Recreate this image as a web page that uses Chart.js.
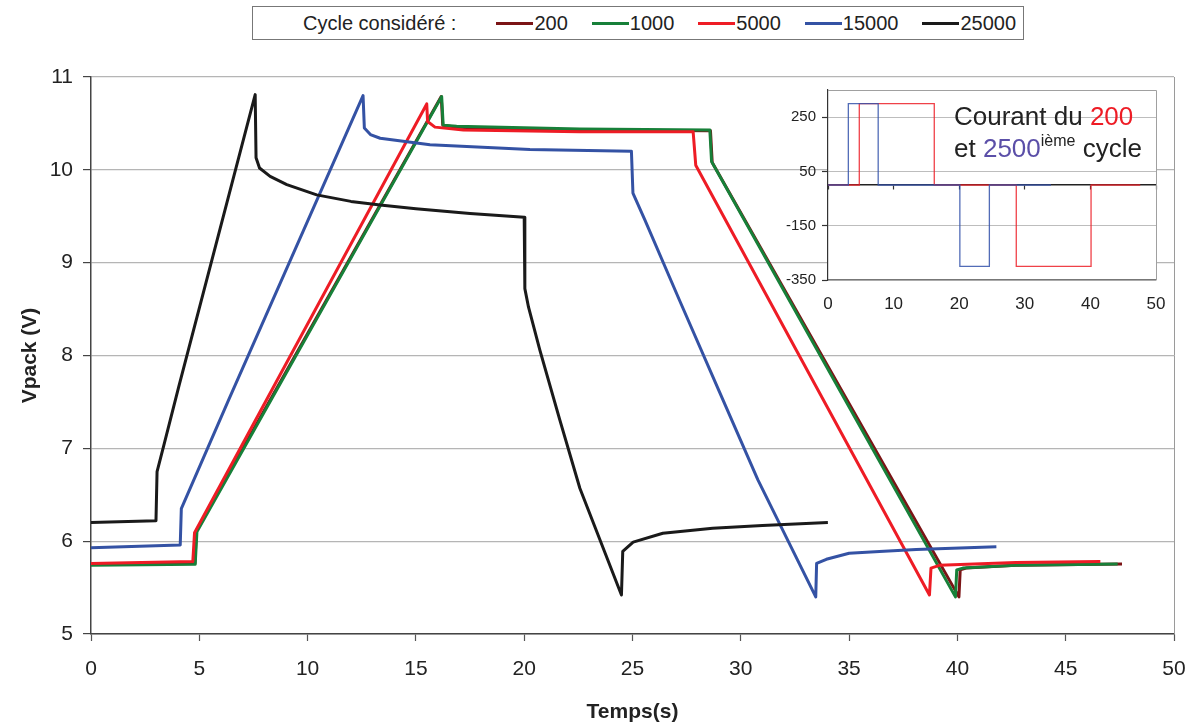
<!DOCTYPE html>
<html>
<head>
<meta charset="utf-8">
<script src="https://cdn.jsdelivr.net/npm/chart.js@4/dist/chart.umd.min.js"></script>
<style>
  html, body { margin: 0; padding: 0; background: #fff; }
  #wrap { position: relative; width: 1195px; height: 726px; font-family: 'Liberation Sans', Arial, sans-serif; }
  #mainBox { position: absolute; left: 0; top: 0; width: 1195px; height: 726px; }
  #insetBox { position: absolute; left: 770px; top: 80px; width: 410px; height: 240px; }
  #legend { position: absolute; left: 252px; top: 6px; width: 772px; height: 34px; box-sizing: border-box;
            border: 1px solid #777; display: flex; align-items: center; padding-left: 50px;
            font-size: 20px; color: #222; white-space: nowrap; background: #fff; }
  #legend .item { display: flex; align-items: center; }
  #legend .swatch { display: inline-block; width: 37px; height: 3px; margin-right: 1px; }
  #note { position: absolute; left: 954px; top: 100px; font-size: 26px; line-height: 32px; color: #222; white-space: nowrap; }
  #note sup { font-size: 16px; line-height: 0; vertical-align: 11px; }
</style>
</head>
<body>
<div id="wrap">
  <div id="mainBox"><canvas id="main"></canvas></div>
  <div id="insetBox"><canvas id="inset"></canvas></div>
  <div id="legend"></div>
  <div id="note">Courant du <span style="color:#ee1c25">200</span><br>et <span style="color:#5b4fa8">2500</span><sup>ième</sup> cycle</div>
</div>
<script>
// ---------- DATA (main chart) ----------
const cycleNames = ['200', '1000', '5000', '15000', '25000'];
const legendTitle = 'Cycle considéré :';
const xTitle = 'Temps(s)';
const yTitle = 'Vpack (V)';

const t200 = [0, 4.80, 4.86, 16.17, 16.24, 16.88, 22.57, 28.60, 28.68, 40.07, 40.13, 40.40, 42.70, 47.60];
const v200 = [5.75, 5.76, 6.11, 10.79, 10.48, 10.46, 10.43, 10.42, 10.08, 5.40, 5.69, 5.71, 5.74, 5.755];

const t1000 = [0, 4.81, 4.89, 16.19, 16.26, 16.88, 22.57, 28.57, 28.65, 39.91, 39.97, 40.25, 42.70, 47.40];
const v1000 = [5.74, 5.75, 6.10, 10.79, 10.48, 10.47, 10.44, 10.43, 10.09, 5.40, 5.69, 5.71, 5.74, 5.755];

const t5000 = [0, 4.70, 4.78, 15.50, 15.54, 15.88, 17.19, 22.57, 27.80, 27.92, 38.71, 38.78, 39.17, 42.70, 46.60];
const v5000 = [5.76, 5.78, 6.09, 10.71, 10.52, 10.46, 10.43, 10.41, 10.41, 10.05, 5.42, 5.71, 5.74, 5.77, 5.78];

const t15000 = [0, 4.12, 4.17, 6.35, 12.56, 12.62, 12.90, 13.35, 15.65, 20.26, 24.95, 25.02, 25.57, 27.18, 29.03, 30.79, 33.46, 33.50, 33.95, 35.00, 36.40, 38.10, 41.80];
const v15000 = [5.93, 5.96, 6.35, 7.52, 10.80, 10.45, 10.38, 10.34, 10.27, 10.22, 10.20, 9.75, 9.46, 8.59, 7.60, 6.66, 5.40, 5.76, 5.805, 5.87, 5.89, 5.91, 5.94];

const t25000 = [0, 3.00, 3.05, 3.35, 4.07, 7.58, 7.62, 7.78, 8.27, 9.04, 10.42, 12.00, 13.35, 15.00, 17.50, 20.00, 20.03, 20.20, 20.72, 21.64, 22.57, 24.49, 24.55, 25.03, 26.40, 28.70, 31.00, 34.02];
const v25000 = [6.20, 6.22, 6.75, 7.02, 7.68, 10.81, 10.13, 10.02, 9.93, 9.84, 9.73, 9.66, 9.62, 9.58, 9.53, 9.49, 8.72, 8.52, 8.06, 7.31, 6.57, 5.42, 5.89, 5.99, 6.085, 6.14, 6.17, 6.20];

const xTickValues = [0, 5, 10, 15, 20, 25, 30, 35, 40, 45, 50];
const yTickValues = [5, 6, 7, 8, 9, 10, 11];

// ---------- DATA (inset: current) ----------
const insetT200 = [0, 4.77, 4.77, 16.2, 16.2, 28.7, 28.7, 40.1, 40.1, 47.6];
const insetI200 = [0, 0, 300, 300, 0, 0, -300, -300, 0, 0];
const insetT2500 = [0, 3.1, 3.1, 7.65, 7.65, 20.1, 20.1, 24.6, 24.6, 34.0];
const insetI2500 = [0, 0, 300, 300, 0, 0, -300, -300, 0, 0];
const insetYTicks = [-350, -150, 50, 250];
const insetXTicks = [0, 10, 20, 30, 40, 50];

// ---------- STYLE ----------
const colors = ['#7b1416', '#178039', '#ee1c25', '#3452a4', '#1a1a1a'];
const FONT = "'Liberation Sans', Arial, sans-serif";
Chart.defaults.font.family = FONT;
Chart.defaults.color = '#222';

const pts = (xs, ys) => xs.map((x, i) => ({ x, y: ys[i] }));
const mainSeries = [[t200, v200], [t1000, v1000], [t5000, v5000], [t15000, v15000], [t25000, v25000]];

// legend (HTML, built from series names)
const leg = document.getElementById('legend');
const lt = document.createElement('span');
lt.textContent = legendTitle;
leg.appendChild(lt);
cycleNames.forEach((name, i) => {
  const it = document.createElement('span');
  it.className = 'item';
  it.style.marginLeft = i === 0 ? '40px' : '24px';
  const sw = document.createElement('span');
  sw.className = 'swatch';
  sw.style.background = colors[i];
  const tx = document.createElement('span');
  tx.textContent = name;
  it.appendChild(sw); it.appendChild(tx);
  leg.appendChild(it);
});

const rightBorder = {
  id: 'rightBorder',
  afterDraw(chart) {
    const { ctx, chartArea: a } = chart;
    ctx.save();
    ctx.strokeStyle = '#9a9a9a';
    ctx.lineWidth = 1;
    ctx.beginPath();
    ctx.moveTo(Math.round(a.right) + 0.5, a.top);
    ctx.lineTo(Math.round(a.right) + 0.5, a.bottom);
    ctx.stroke();
    ctx.restore();
  }
};

new Chart(document.getElementById('main'), {
  type: 'scatter',
  data: {
    datasets: mainSeries.map(([xs, ys], i) => ({
      label: cycleNames[i],
      data: pts(xs, ys),
      showLine: true,
      borderColor: colors[i],
      backgroundColor: colors[i],
      borderWidth: 3,
      pointRadius: 0,
      tension: 0,
      borderJoinStyle: 'round',
      order: mainSeries.length - i
    }))
  },
  options: {
    responsive: true,
    maintainAspectRatio: false,
    animation: false,
    events: [],
    layout: { padding: { top: 77, right: 21, left: 0, bottom: 0 } },
    plugins: { legend: { display: false }, tooltip: { enabled: false } },
    scales: {
      x: {
        type: 'linear', min: 0, max: 50,
        afterFit(s) { s.height = 92; s.paddingLeft = 0; s.paddingRight = 0; },
        afterBuildTicks(s) { s.ticks = xTickValues.map(v => ({ value: v })); },
        ticks: { font: { size: 21 }, color: '#222', padding: 16, maxRotation: 0 },
        grid: { drawOnChartArea: false, drawTicks: true, tickLength: 7, tickColor: '#555', tickWidth: 1.2 },
        border: { color: '#444', width: 1.5 },
        title: { display: true, text: xTitle, font: { size: 21, weight: 'bold' }, color: '#222', padding: { top: 0, bottom: 1 } }
      },
      y: {
        type: 'linear', min: 5, max: 11,
        afterFit(s) { s.width = 91; s.paddingTop = 0; s.paddingBottom = 0; },
        afterBuildTicks(s) { s.ticks = yTickValues.map(v => ({ value: v })); },
        ticks: { font: { size: 21 }, color: '#222', padding: 10 },
        grid: { color: '#b5b5b5', lineWidth: 1.2, tickLength: 8, tickColor: '#444', tickWidth: 1.2 },
        border: { color: '#444', width: 1.5 },
        title: { display: true, text: yTitle, font: { size: 21, weight: 'bold' }, color: '#222', padding: { top: 18, bottom: 0 } }
      }
    }
  },
  plugins: [rightBorder]
});

// ---------- inset ----------
const insetFrame = {
  id: 'insetFrame',
  beforeDraw(chart) {
    const { ctx, chartArea: a } = chart;
    ctx.save();
    ctx.fillStyle = '#fff';
    ctx.fillRect(a.left, a.top, a.right - a.left, a.bottom - a.top);
    ctx.restore();
  },
  afterDraw(chart) {
    const { ctx, chartArea: a } = chart;
    ctx.save();
    ctx.strokeStyle = '#a0a0a0';
    ctx.lineWidth = 1;
    ctx.beginPath();
    ctx.moveTo(a.left, Math.round(a.top) + 0.5);
    ctx.lineTo(Math.round(a.right) + 0.5, Math.round(a.top) + 0.5);
    ctx.lineTo(Math.round(a.right) + 0.5, a.bottom);
    ctx.stroke();
    ctx.restore();
  }
};

new Chart(document.getElementById('inset'), {
  type: 'scatter',
  data: {
    datasets: [
      { label: '200', data: pts(insetT200, insetI200), showLine: true, borderColor: 'rgba(236,32,40,0.85)', borderWidth: 1.3, pointRadius: 0, order: 2 },
      { label: '2500', data: pts(insetT2500, insetI2500), showLine: true, borderColor: 'rgba(52,82,170,0.85)', borderWidth: 1.3, pointRadius: 0, order: 1 }
    ]
  },
  options: {
    responsive: true,
    maintainAspectRatio: false,
    animation: false,
    events: [],
    layout: { padding: { top: 10, right: 24, left: 0, bottom: 0 } },
    plugins: { legend: { display: false }, tooltip: { enabled: false } },
    scales: {
      x: {
        type: 'linear', min: 0, max: 50,
        afterFit(s) { s.height = 40; s.paddingLeft = 0; s.paddingRight = 0; },
        afterBuildTicks(s) { s.ticks = insetXTicks.map(v => ({ value: v })); },
        ticks: { font: { size: 17 }, color: '#222', padding: 14, maxRotation: 0 },
        grid: { drawOnChartArea: false, drawTicks: false },
        border: { color: '#777', width: 1.2 }
      },
      x2: {
        type: 'linear', axis: 'x', min: 0, max: 50,
        position: { y: 0 },
        afterFit(s) { s.paddingLeft = 0; s.paddingRight = 0; },
        afterBuildTicks(s) { s.ticks = insetXTicks.map(v => ({ value: v })); },
        ticks: { display: false },
        grid: { drawOnChartArea: false, drawTicks: true, tickLength: 4, tickColor: '#333', tickWidth: 1.2 },
        border: { color: '#222', width: 1.5 }
      },
      y: {
        type: 'linear', min: -350, max: 350,
        afterFit(s) { s.width = 58; s.paddingTop = 0; s.paddingBottom = 0; },
        afterBuildTicks(s) { s.ticks = insetYTicks.map(v => ({ value: v })); },
        ticks: { font: { size: 15 }, color: '#222', padding: 6 },
        grid: { color: '#bdbdbd', lineWidth: 1, tickLength: 6, tickColor: '#333', tickWidth: 1.2 },
        border: { color: '#333', width: 1.2 }
      }
    }
  },
  plugins: [insetFrame]
});
</script>
</body>
</html>
